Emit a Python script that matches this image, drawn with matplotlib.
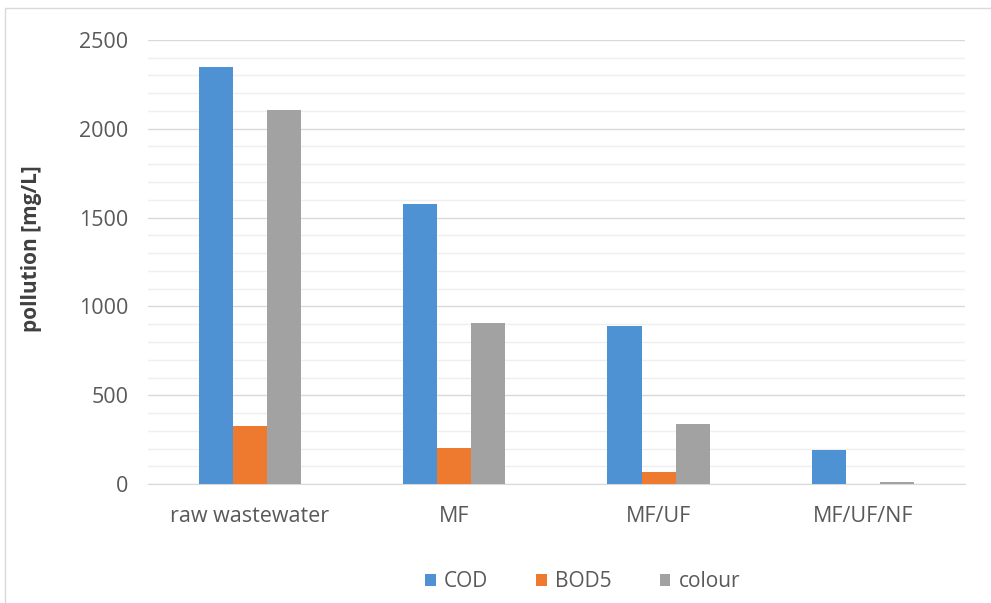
import matplotlib.pyplot as plt
import numpy as np
from matplotlib.patches import Rectangle

stages = ['raw wastewater', 'MF', 'MF/UF', 'MF/UF/NF']
cod = [2345, 1575, 890, 190]
bod5 = [330, 205, 70, 0]
colour = [2105, 905, 340, 15]

plt.rcParams['font.family'] = ['Open Sans', 'DejaVu Sans']

fig = plt.figure(figsize=(9.91, 6.03), dpi=100)
ax = fig.add_axes([0.149, 0.197, 0.825, 0.737])

x = np.arange(len(stages))
w = 0.167
ax.bar(x - w, cod, w, color='#4f92d3', label='COD', zorder=3)
ax.bar(x, bod5, w, color='#ee7a2f', label='BOD5', zorder=3)
ax.bar(x + w, colour, w, color='#a2a2a2', label='colour', zorder=3)

ax.set_xlim(-0.5, 3.5)
ax.set_ylim(0, 2500)
ax.set_yticks(np.arange(0, 2501, 500))
ax.set_yticks(np.arange(0, 2501, 100), minor=True)
ax.grid(axis='y', which='major', color='#d9d9d9', lw=1, zorder=0)
ax.grid(axis='y', which='minor', color='#efefef', lw=1, zorder=0)
ax.set_xticks(x)
ax.set_xticklabels(stages)
ax.tick_params(axis='both', which='both', length=0, labelsize=15.5, colors='#595959')
ax.tick_params(axis='y', pad=14)
ax.tick_params(axis='x', pad=16)
for s in ['top', 'right', 'left']:
    ax.spines[s].set_visible(False)
ax.spines['bottom'].set_color('#d9d9d9')

ax.set_ylabel('pollution [mg/L]', fontsize=15, fontweight='bold', color='#404040')
ax.yaxis.set_label_coords(-0.129, 0.53)

ax.legend(loc='center', bbox_to_anchor=(0.588, 0.035), bbox_transform=fig.transFigure,
          ncol=3, frameon=False, fontsize=15, labelcolor='#595959',
          handlelength=0.5, handleheight=0.5, handletextpad=0.4, columnspacing=2.3)

fig.patches.append(Rectangle((0.005, -0.01), 1.1, 0.997, transform=fig.transFigure,
                             fill=False, edgecolor='#d9d9d9', lw=1))

fig.savefig('out.png', dpi=100)
